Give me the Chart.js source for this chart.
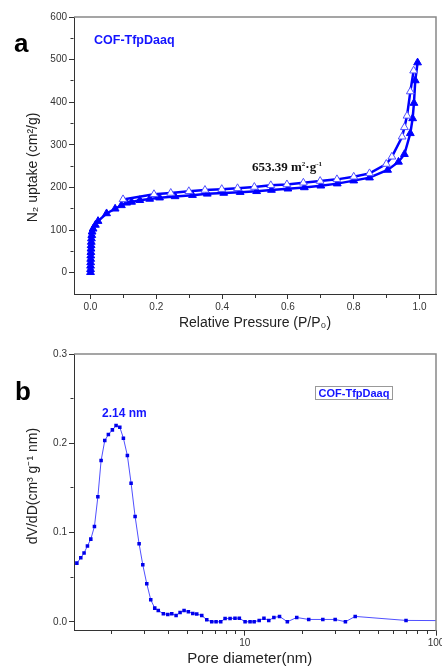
<!DOCTYPE html>
<html lang="en">
<head>
    <meta charset="UTF-8">
    <title>COF-TfpDaaq</title>
    <style>
        body { margin: 0; background: #fff; font-family: Arial, "Liberation Sans", sans-serif; }
        .page { position: relative; width: 442px; height: 672px; overflow: hidden; }
        canvas { position: absolute; left: 0; }
        .txt { position: absolute; line-height: 1; white-space: nowrap; }
        .panel { font-size: 26px; font-weight: bold; color: #000; }
        .blue { color: rgb(20,20,255); font-weight: bold; }
        .bet { font-family: "Liberation Serif", "Times New Roman", serif; font-weight: bold; font-size: 13px; color: #111; }
        .bet sup { font-size: 7px; vertical-align: 5px; }
        .tag { position: absolute; box-sizing: border-box; border: 1px solid #999; text-align: center;
               font-size: 11px; line-height: 12px; font-weight: bold; color: rgb(20,20,255); }
    </style>
    <script src="https://cdn.jsdelivr.net/npm/chart.js"></script>
</head>
<body>
<div class="page">
    <canvas id="chart-iso" width="442" height="335" style="top:0"></canvas>
    <canvas id="chart-psd" width="442" height="337" style="top:335px"></canvas>

    <div class="txt panel" style="left:14px; top:30px;">a</div>
    <div class="txt blue" style="left:94px; top:34px; font-size:12.5px;">COF-TfpDaaq</div>
    <div class="txt bet" style="left:252px; top:160px;">653.39 m<sup>2</sup>·g<sup>-1</sup></div>

    <div class="txt panel" style="left:15px; top:378px;">b</div>
    <div class="txt blue" style="left:102px; top:407px; font-size:12px;">2.14 nm</div>
    <div class="tag" style="left:315px; top:386px; width:78px; height:14px;">COF-TfpDaaq</div>
</div>
<script>
    // isotherm (a)
    const adsP = [0.0002,0.0003,0.0004,0.0006,0.0008,0.001,0.0013,0.0016,0.002,0.0025,0.003,0.004,0.005,0.008,0.015,0.023,0.049,0.075,0.094,0.11,0.125,0.15,0.18,0.21,0.257,0.31,0.355,0.405,0.455,0.505,0.55,0.6,0.65,0.7,0.75,0.8,0.848,0.903,0.936,0.954,0.972,0.979,0.983,0.987,0.994];
    const adsV = [1,8,16,24,32,40,48,56,64,72,80,88,96,103,112,121,139,150,158,164,166,170,173,176,179,182,185,187,189,191,194,197,200,204,209,216,223,241,260,278,327,362,398,451,493];
    const desP = [0.982,0.972,0.962,0.954,0.947,0.916,0.899,0.848,0.8,0.749,0.698,0.647,0.597,0.548,0.498,0.447,0.399,0.348,0.299,0.244,0.193,0.099];
    const desV = [474,425,368,341,319,272,255,233,225,219,215,211,207,205,201,198,196,194,191,187,184,172];
    const pressureTicks = [0,0.1,0.2,0.3,0.4,0.5,0.6,0.7,0.8,0.9,1.0];
    const uptakeTicks = [0,50,100,150,200,250,300,350,400,450,500,550,600];

    // pore size distribution (b)
    const poreD = [1.325,1.389,1.445,1.505,1.567,1.637,1.706,1.774,1.854,1.936,2.032,2.124,2.222,2.32,2.434,2.545,2.671,2.803,2.93,3.074,3.225,3.384,3.53,3.754,3.959,4.154,4.375,4.59,4.816,5.073,5.35,5.61,5.96,6.33,6.72,7.08,7.49,7.89,8.38,8.89,9.37,10.04,10.66,11.2,11.9,12.6,13.35,14.2,15.2,16.7,18.7,21.6,25.6,29.7,33.6,37.8,69.7,110];
    const poreV = [0.0657,0.0717,0.077,0.085,0.0926,0.1067,0.140,0.1806,0.203,0.2097,0.215,0.2198,0.218,0.2057,0.1862,0.1553,0.118,0.0873,0.0638,0.0426,0.0246,0.0153,0.0127,0.009,0.0082,0.009,0.0071,0.0104,0.0127,0.0112,0.0093,0.0086,0.0071,0.0022,0,0,0,0.0037,0.0037,0.004,0.004,0,0,0,0.0015,0.004,0.0015,0.0048,0.006,0,0.0048,0.0026,0.0026,0.0026,0,0.006,0.0015,0.0013];
    const diameterTicks = [2,3,4,5,6,7,8,9,10,20,30,40,50,60,70,80,90,100];
    const dvTicks = [0,0.05,0.1,0.15,0.2,0.25,0.3];

    const pts = (xs, ys) => xs.map((x, i) => ({x: x, y: ys[i]}));
    const tickFont = {family: 'Arial, "Liberation Sans"', size: 10};
    const titleFont = {family: 'Arial, "Liberation Sans"', size: 14};

    // right + top frame of the plot box
    const frame = {
        id: 'frame',
        afterDraw(chart) {
            const a = chart.chartArea, c = chart.ctx;
            c.save();
            c.strokeStyle = '#888';
            c.lineWidth = 1.5;
            c.beginPath();
            c.moveTo(a.left, a.top);
            c.lineTo(a.right, a.top);
            c.lineTo(a.right, a.bottom);
            c.stroke();
            c.restore();
        }
    };

    // shorter minor ticks: left ticks are drawn outer->axis, bottom ticks axis->outer
    function axisGrid(isMinor, left) {
        return {
            drawOnChartArea: false, tickLength: 5, tickColor: '#333', tickWidth: 1,
            tickBorderDash: ctx => (ctx.tick && isMinor(ctx.tick.value)) ? (left ? [0, 1.5, 3, 20] : [3, 20]) : []
        };
    }

    function baseOpts(xScale, yScale, pad) {
        return {
            responsive: false, animation: false,
            layout: {padding: pad},
            plugins: {legend: {display: false}, tooltip: {enabled: false}},
            scales: {x: xScale, y: yScale}
        };
    }

    new Chart(document.getElementById('chart-iso'), {
        type: 'scatter',
        data: {
            datasets: [
                { data: pts(desP, desV), showLine: true, borderColor: 'rgb(0,0,255)', borderWidth: 2.5,
                  pointStyle: 'triangle', pointRadius: 4.5, pointBackgroundColor: '#fff',
                  pointBorderColor: 'rgb(80,80,255)', pointBorderWidth: 1 },
                { data: pts(adsP, adsV), showLine: true, borderColor: 'rgb(0,0,255)', borderWidth: 2.5,
                  pointStyle: 'triangle', pointRadius: 4.5, pointBackgroundColor: 'rgb(0,0,255)',
                  pointBorderColor: 'rgb(0,0,255)', pointBorderWidth: 1 }
            ]
        },
        options: baseOpts(
            { type: 'linear', min: -0.05, max: 1.05,
              afterBuildTicks: s => { s.ticks = pressureTicks.map(v => ({value: v})); },
              afterFit: s => { s.height = 41; s.paddingLeft = 0; s.paddingRight = 0; },
              border: {color: '#333', width: 1},
              grid: axisGrid(v => Math.round(v * 10) % 2 === 1, false),
              ticks: { autoSkip: false, maxRotation: 0, padding: 2, color: '#333', font: tickFont,
                       callback: (v, i) => i % 2 === 0 ? v.toFixed(1) : '' },
              title: { display: true, text: 'Relative Pressure (P/P\u2080)', color: '#222', font: titleFont,
                       padding: {top: 0, bottom: 3} } },
            { type: 'linear', min: -50, max: 600,
              afterBuildTicks: s => { s.ticks = uptakeTicks.map(v => ({value: v})); },
              afterFit: s => { s.width = 74; },
              border: {color: '#333', width: 1},
              grid: axisGrid(v => v % 100 !== 0, true),
              ticks: { autoSkip: false, padding: 2, color: '#333', font: tickFont,
                       callback: v => v % 100 === 0 ? String(v) : '' },
              title: { display: true, text: 'N\u2082 uptake (cm\u00b2/g)\u2003\u2002\u2009', color: '#222', font: titleFont,
                       padding: {top: 25, bottom: 0} } },
            {top: 17, right: 6, left: 0, bottom: 0}
        ),
        plugins: [frame]
    });

    new Chart(document.getElementById('chart-psd'), {
        type: 'scatter',
        data: {
            datasets: [
                { data: pts(poreD, poreV), showLine: true, borderColor: 'rgb(80,80,255)', borderWidth: 1,
                  pointStyle: 'rect', pointRadius: 2.5, pointBackgroundColor: 'rgb(0,0,235)',
                  pointBorderWidth: 0 }
            ]
        },
        options: baseOpts(
            { type: 'logarithmic', min: 1.28, max: 100,
              afterBuildTicks: s => { s.ticks = diameterTicks.map(v => ({value: v})); },
              afterFit: s => { s.height = 41.3; s.paddingLeft = 0; s.paddingRight = 0; },
              border: {color: '#333', width: 1},
              grid: axisGrid(v => v !== 10 && v !== 100, false),
              ticks: { autoSkip: false, maxRotation: 0, padding: 2, color: '#333', font: tickFont,
                       callback: v => (v === 10 || v === 100) ? String(v) : '' },
              title: { display: true, text: 'Pore diameter(nm)\u2002\u2009', color: '#222',
                       font: {family: 'Arial, "Liberation Sans"', size: 15},
                       padding: {top: 0, bottom: 4} } },
            { type: 'linear', min: -0.01, max: 0.3,
              afterBuildTicks: s => { s.ticks = dvTicks.map(v => ({value: v})); },
              afterFit: s => { s.width = 74; },
              border: {color: '#333', width: 1},
              grid: axisGrid(v => Math.round(v * 100) % 10 !== 0, true),
              ticks: { autoSkip: false, padding: 2, color: '#333', font: tickFont,
                       callback: v => Math.round(v * 100) % 10 === 0 ? v.toFixed(1) : '' },
              title: { display: true, text: '\u2002\u2009\u2009dV/dD(cm\u00b3 g\u207b\u00b9 nm)', color: '#222', font: titleFont,
                       padding: {top: 25, bottom: 0} } },
            {top: 19, right: 6, left: 0, bottom: 0}
        ),
        plugins: [frame]
    });
</script>
</body>
</html>
